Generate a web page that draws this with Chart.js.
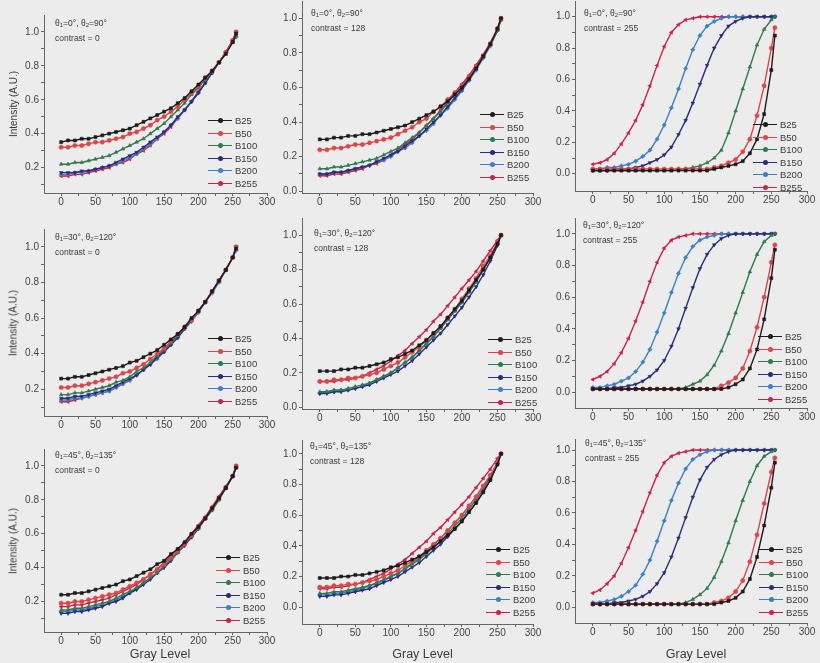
<!DOCTYPE html>
<html>
<head>
<meta charset="utf-8">
<script src="https://cdn.jsdelivr.net/npm/chart.js@4/dist/chart.umd.min.js"></script>
<style>
  html, body { margin: 0; padding: 0; background: #ececec; }
  #fig { position: relative; width: 820px; height: 663px; overflow: hidden; font-family: "Liberation Sans", Arial, sans-serif; color: #3a3a3a; }
  #fig canvas { position: absolute; }
  .note { position: absolute; font-size: 8.5px; line-height: 13px; white-space: nowrap; }
  .note sub { font-size: 6px; vertical-align: -1px; }
  .leg { position: absolute; font-size: 9.5px; }
  .leg div { position: absolute; left: 0; height: 12px; display: flex; align-items: center; white-space: nowrap; }
  .sym { position: relative; width: 24px; height: 1px; margin-right: 3px; }
  .sym i { position: absolute; left: 10px; top: -2px; width: 5px; height: 5px; border-radius: 50%; }
  .ytitle { position: absolute; font-size: 10px; transform: translate(-50%, -50%) rotate(-90deg); white-space: nowrap; }
  .xtitle { position: absolute; font-size: 12.5px; transform: translate(-50%, -50%); white-space: nowrap; }
</style>
</head>
<body>
<div id="fig"></div>
<script>
// グレーレベル (x) と目盛り
const grayLevels = [0, 10, 20, 30, 40, 50, 60, 70, 80, 90, 100, 110, 120, 130, 140, 150, 160, 170, 180, 190, 200, 210, 220, 230, 240, 250, 255];
const xTicks = [0, 25, 50, 75, 100, 125, 150, 175, 200, 225, 250, 275, 300];
const yTicks = [0, 0.1, 0.2, 0.3, 0.4, 0.5, 0.6, 0.7, 0.8, 0.9, 1.0];
const seriesNames = ['B25', 'B50', 'B100', 'B150', 'B200', 'B255'];
const seriesColors = ['#1c1c1c', '#dc4646', '#2f7a4f', '#2b2b7a', '#3d7fc4', '#c8234e'];
const thetaPairs = [[0, 90], [30, 120], [45, 135]];
const contrasts = [0, 128, 255];

// 各パネルの強度 (行: B25, B50, B100, B150, B200, B255)
const th0_c0 = [
  [.35,.36,.36,.37,.37,.38,.39,.40,.41,.42,.43,.45,.47,.49,.51,.53,.55,.58,.61,.65,.69,.73,.77,.82,.87,.94,.99],
  [.32,.32,.33,.33,.34,.35,.35,.36,.37,.38,.40,.41,.43,.45,.48,.50,.53,.56,.60,.64,.68,.73,.77,.82,.88,.95,1.0],
  [.22,.22,.23,.23,.24,.25,.26,.27,.29,.31,.33,.35,.37,.40,.43,.46,.50,.54,.58,.63,.67,.72,.77,.82,.88,.94,.98],
  [.17,.17,.17,.18,.18,.19,.20,.21,.23,.25,.27,.29,.32,.35,.38,.41,.45,.50,.54,.59,.64,.70,.76,.82,.88,.95,1.0],
  [.16,.16,.17,.17,.18,.19,.20,.21,.22,.24,.26,.28,.31,.34,.37,.41,.45,.49,.54,.59,.64,.70,.76,.82,.88,.94,.97],
  [.15,.15,.16,.16,.17,.18,.19,.20,.22,.23,.25,.28,.30,.33,.37,.40,.44,.49,.54,.59,.65,.70,.76,.82,.88,.95,1.0]
];
const th0_c128 = [
  [.30,.30,.31,.31,.32,.32,.33,.33,.34,.35,.36,.37,.38,.40,.42,.44,.46,.49,.52,.56,.60,.65,.71,.78,.85,.94,1.0],
  [.24,.24,.25,.25,.26,.27,.27,.28,.29,.30,.31,.33,.35,.37,.40,.42,.46,.49,.53,.57,.61,.66,.72,.78,.85,.94,1.0],
  [.13,.13,.14,.14,.15,.16,.17,.18,.19,.21,.23,.25,.28,.31,.34,.38,.42,.46,.51,.56,.61,.66,.72,.78,.85,.93,.99],
  [.10,.10,.11,.11,.12,.13,.14,.15,.17,.19,.21,.23,.26,.29,.32,.36,.40,.44,.49,.54,.59,.65,.71,.78,.85,.93,1.0],
  [.10,.10,.11,.11,.12,.13,.14,.15,.17,.18,.20,.23,.25,.28,.32,.35,.39,.44,.48,.53,.58,.64,.70,.77,.84,.93,.99],
  [.09,.09,.10,.10,.11,.12,.13,.15,.16,.18,.21,.24,.27,.30,.34,.38,.42,.47,.52,.57,.62,.67,.73,.79,.86,.94,1.0]
];
const th0_c255 = [
  [.02,.02,.02,.02,.02,.02,.02,.02,.02,.02,.02,.02,.02,.02,.02,.02,.02,.03,.04,.05,.06,.08,.13,.22,.38,.66,.88],
  [.03,.03,.03,.03,.03,.03,.03,.03,.03,.03,.03,.03,.03,.03,.03,.03,.03,.04,.05,.07,.09,.14,.22,.37,.56,.80,.93],
  [.02,.02,.02,.02,.02,.02,.02,.02,.02,.02,.02,.02,.03,.03,.04,.05,.07,.10,.15,.26,.40,.54,.68,.82,.92,.98,1.0],
  [.02,.02,.02,.03,.03,.03,.04,.05,.07,.09,.12,.17,.25,.34,.45,.57,.69,.80,.88,.94,.97,.99,1.0,1.0,1.0,1.0,1.0],
  [.03,.03,.04,.04,.05,.06,.08,.11,.15,.22,.31,.42,.54,.67,.79,.88,.94,.97,.99,1.0,1.0,1.0,1.0,1.0,1.0,1.0,1.0],
  [.06,.07,.09,.13,.19,.26,.34,.44,.56,.69,.81,.90,.95,.98,.99,1.0,1.0,1.0,1.0,1.0,1.0,1.0,1.0,1.0,1.0,1.0,1.0]
];
const th30_c0 = [
  [.26,.26,.27,.27,.28,.29,.30,.31,.32,.33,.35,.36,.38,.40,.42,.45,.48,.51,.55,.60,.64,.69,.75,.81,.87,.94,.99],
  [.21,.21,.22,.22,.23,.24,.25,.26,.27,.29,.30,.32,.34,.37,.40,.43,.47,.51,.55,.59,.64,.69,.75,.81,.87,.94,1.0],
  [.17,.17,.18,.18,.19,.20,.21,.22,.24,.25,.27,.30,.32,.35,.39,.42,.46,.50,.55,.59,.64,.69,.75,.81,.87,.94,.99],
  [.15,.15,.16,.16,.17,.18,.19,.20,.22,.24,.26,.28,.31,.34,.38,.41,.45,.49,.54,.59,.64,.69,.75,.81,.87,.94,1.0],
  [.14,.14,.15,.15,.16,.17,.18,.19,.21,.23,.25,.28,.31,.34,.37,.41,.45,.49,.54,.58,.63,.69,.74,.80,.87,.94,.98],
  [.13,.13,.14,.15,.16,.17,.18,.19,.21,.23,.25,.28,.31,.34,.38,.42,.46,.50,.55,.59,.64,.69,.75,.81,.87,.94,1.0]
];
const th30_c128 = [
  [.21,.21,.21,.22,.22,.23,.23,.24,.25,.26,.28,.29,.31,.33,.36,.39,.43,.47,.52,.57,.62,.68,.74,.80,.87,.95,1.0],
  [.15,.15,.16,.16,.17,.17,.18,.19,.20,.22,.24,.26,.29,.32,.35,.39,.43,.47,.52,.57,.63,.69,.75,.82,.88,.96,1.0],
  [.09,.09,.10,.10,.11,.12,.13,.14,.16,.18,.20,.23,.26,.29,.33,.37,.41,.46,.51,.56,.61,.67,.73,.80,.87,.95,1.0],
  [.08,.08,.09,.09,.10,.11,.12,.13,.15,.17,.19,.21,.24,.27,.31,.35,.39,.43,.48,.53,.58,.64,.70,.77,.85,.94,1.0],
  [.08,.09,.09,.10,.10,.11,.12,.14,.16,.18,.20,.23,.26,.29,.33,.37,.41,.46,.51,.56,.61,.67,.73,.80,.87,.95,1.0],
  [.15,.15,.15,.16,.16,.17,.18,.20,.22,.24,.27,.30,.33,.37,.41,.45,.50,.54,.59,.64,.69,.74,.79,.85,.91,.97,1.0]
];
const th30_c255 = [
  [.02,.02,.02,.02,.02,.02,.02,.02,.02,.02,.02,.02,.02,.02,.02,.02,.02,.02,.02,.03,.05,.08,.15,.27,.46,.72,.90],
  [.02,.02,.02,.02,.02,.02,.02,.02,.02,.02,.02,.02,.02,.02,.02,.02,.02,.02,.04,.06,.09,.15,.26,.41,.60,.82,.93],
  [.02,.02,.02,.02,.02,.02,.02,.02,.02,.02,.02,.02,.02,.03,.05,.07,.11,.17,.26,.37,.50,.63,.76,.87,.95,.99,1.0],
  [.02,.02,.02,.03,.03,.04,.05,.07,.10,.14,.20,.29,.40,.53,.66,.78,.87,.93,.97,.99,1.0,1.0,1.0,1.0,1.0,1.0,1.0],
  [.03,.03,.04,.05,.07,.09,.13,.19,.27,.38,.50,.63,.75,.85,.92,.96,.98,.99,1.0,1.0,1.0,1.0,1.0,1.0,1.0,1.0,1.0],
  [.08,.10,.13,.18,.25,.34,.45,.57,.70,.82,.91,.96,.98,.99,1.0,1.0,1.0,1.0,1.0,1.0,1.0,1.0,1.0,1.0,1.0,1.0,1.0]
];
const th45_c0 = [
  [.24,.24,.25,.25,.26,.27,.28,.29,.30,.32,.33,.35,.37,.39,.42,.44,.48,.51,.55,.60,.64,.69,.75,.81,.87,.94,.99],
  [.19,.19,.20,.20,.21,.22,.23,.24,.25,.27,.29,.31,.33,.36,.39,.42,.46,.50,.54,.59,.64,.69,.75,.81,.87,.94,1.0],
  [.15,.15,.16,.16,.17,.18,.19,.20,.22,.24,.26,.28,.31,.34,.37,.41,.45,.49,.54,.59,.63,.69,.74,.80,.87,.94,.99],
  [.13,.13,.14,.14,.15,.16,.17,.19,.20,.22,.25,.27,.30,.33,.37,.40,.44,.49,.53,.58,.63,.69,.74,.81,.87,.94,1.0],
  [.14,.14,.15,.15,.16,.17,.18,.19,.21,.23,.25,.28,.31,.34,.37,.41,.45,.49,.54,.58,.63,.69,.74,.80,.87,.94,.99],
  [.17,.17,.18,.18,.19,.20,.21,.22,.24,.26,.28,.30,.33,.36,.39,.43,.47,.51,.55,.60,.65,.70,.76,.82,.88,.94,1.0]
];
const th45_c128 = [
  [.19,.19,.19,.20,.20,.21,.21,.22,.23,.24,.26,.27,.29,.31,.33,.36,.39,.43,.47,.51,.56,.62,.68,.75,.83,.93,1.0],
  [.13,.13,.14,.14,.15,.15,.16,.17,.18,.20,.22,.24,.27,.30,.33,.37,.41,.45,.50,.55,.60,.66,.72,.79,.86,.94,1.0],
  [.09,.09,.10,.10,.11,.12,.13,.14,.16,.18,.20,.22,.25,.28,.31,.35,.39,.43,.48,.53,.58,.64,.70,.77,.85,.94,1.0],
  [.07,.07,.08,.08,.09,.10,.11,.12,.14,.16,.18,.20,.23,.26,.29,.33,.37,.41,.46,.51,.56,.62,.68,.75,.83,.93,1.0],
  [.08,.08,.09,.09,.10,.11,.12,.14,.15,.17,.20,.22,.25,.29,.32,.36,.40,.45,.50,.55,.60,.66,.72,.79,.86,.94,1.0],
  [.12,.12,.13,.13,.14,.15,.16,.18,.20,.22,.25,.28,.31,.35,.39,.43,.48,.52,.57,.62,.67,.72,.78,.84,.90,.97,1.0]
];
const th45_c255 = [
  [.02,.02,.02,.02,.02,.02,.02,.02,.02,.02,.02,.02,.02,.02,.02,.02,.02,.02,.03,.04,.06,.10,.18,.32,.52,.76,.92],
  [.02,.02,.02,.02,.02,.02,.02,.02,.02,.02,.02,.02,.02,.02,.02,.02,.02,.03,.04,.06,.10,.17,.29,.46,.66,.86,.95],
  [.02,.02,.02,.02,.02,.02,.02,.02,.02,.02,.02,.02,.02,.03,.05,.08,.12,.19,.29,.41,.55,.68,.80,.90,.96,.99,1.0],
  [.02,.02,.02,.03,.03,.04,.05,.07,.10,.15,.22,.32,.44,.57,.70,.81,.89,.94,.97,.99,1.0,1.0,1.0,1.0,1.0,1.0,1.0],
  [.03,.03,.04,.05,.07,.10,.14,.21,.30,.42,.55,.68,.79,.88,.94,.97,.99,1.0,1.0,1.0,1.0,1.0,1.0,1.0,1.0,1.0,1.0],
  [.09,.11,.15,.20,.28,.38,.49,.61,.73,.84,.92,.96,.98,.99,1.0,1.0,1.0,1.0,1.0,1.0,1.0,1.0,1.0,1.0,1.0,1.0,1.0]
];

// マーカー形状 (Origin 風)
const pointStyles = ['rect', 'circle', 'triangle', 'triangle', 'rectRot', 'triangle'];
const pointRotations = [0, 0, 0, 180, 0, -90];

// パネル配置: x0/x300 = x=0,300 の画素, y1/y0 = y=1.0,0.0 の画素
const panels = [
  { data: th0_c0,    row: 0, col: 0, x0: 61,  x300: 267, y1: 32,  y0: 201, ymin: 0.05,  ymax: 1.1,  legX: 208, legY: 120 },
  { data: th0_c128,  row: 0, col: 1, x0: 320, x300: 533, y1: 18,  y0: 191, ymin: -0.01, ymax: 1.1,  legX: 480, legY: 114 },
  { data: th0_c255,  row: 0, col: 2, x0: 593, x300: 807, y1: 17,  y0: 174, ymin: -0.11, ymax: 1.1,  legX: 753, legY: 124 },
  { data: th30_c0,   row: 1, col: 0, x0: 61,  x300: 267, y1: 247, y0: 425, ymin: 0.05,  ymax: 1.1,  legX: 208, legY: 338 },
  { data: th30_c128, row: 1, col: 1, x0: 320, x300: 533, y1: 235, y0: 407, ymin: -0.01, ymax: 1.1,  legX: 488, legY: 339 },
  { data: th30_c255, row: 1, col: 2, x0: 593, x300: 807, y1: 234, y0: 392, ymin: -0.10, ymax: 1.1,  legX: 758, legY: 336 },
  { data: th45_c0,   row: 2, col: 0, x0: 61,  x300: 267, y1: 466, y0: 635, ymin: 0.02,  ymax: 1.1,  legX: 216, legY: 557 },
  { data: th45_c128, row: 2, col: 1, x0: 320, x300: 533, y1: 454, y0: 607, ymin: -0.11, ymax: 1.09, legX: 486, legY: 549 },
  { data: th45_c255, row: 2, col: 2, x0: 593, x300: 807, y1: 450, y0: 607, ymin: -0.10, ymax: 1.07, legX: 759, legY: 549 }
];
const noteXY = [[55, 17], [311, 7], [584, 7], [55, 231], [314, 227], [583, 219], [55, 449], [310, 440], [585, 437]];

const YW = 30, XH = 22, PT = 8, PR = 14;
const fig = document.getElementById('fig');

function addDiv(cls, html, x, y) {
  const d = document.createElement('div');
  d.className = cls;
  d.innerHTML = html;
  d.style.left = x + 'px';
  d.style.top = y + 'px';
  fig.appendChild(d);
  return d;
}

panels.forEach((p, idx) => {
  const xmin = -25, xmax = 300;
  const pxPerX = (p.x300 - p.x0) / 300;
  const left = Math.round(p.x0 + xmin * pxPerX);
  const right = p.x300;
  const top = Math.round(p.y0 - (p.y0 - p.y1) * p.ymax);
  const bottom = Math.round(p.y0 - (p.y0 - p.y1) * p.ymin);

  const canvas = document.createElement('canvas');
  canvas.width = right - left + YW + PR;
  canvas.height = bottom - top + PT + XH;
  canvas.style.left = (left - YW) + 'px';
  canvas.style.top = (top - PT) + 'px';
  fig.appendChild(canvas);

  const datasets = p.data.map((vals, i) => ({
    label: seriesNames[i],
    data: grayLevels.map((g, k) => ({ x: g, y: vals[k] })),
    borderColor: seriesColors[i],
    backgroundColor: seriesColors[i],
    borderWidth: 1.4,
    pointStyle: pointStyles[i],
    pointRotation: pointRotations[i],
    pointRadius: 2.1,
    pointBorderWidth: 0.6,
    tension: 0
  }));

  new Chart(canvas, {
    type: 'line',
    data: { datasets: datasets },
    options: {
      responsive: false,
      animation: false,
      layout: { padding: { top: PT, right: PR, left: 0, bottom: 0 } },
      plugins: { legend: { display: false }, tooltip: { enabled: false } },
      scales: {
        x: {
          type: 'linear', min: xmin, max: xmax,
          afterBuildTicks: ax => { ax.ticks = xTicks.map(v => ({ value: v })); },
          afterFit: s => { s.height = XH; },
          ticks: {
            autoSkip: false, maxRotation: 0, padding: 0,
            color: '#444', font: { family: "'Liberation Sans', Arial", size: 10 },
            callback: v => (v % 50 === 0 ? String(v) : '')
          },
          grid: { drawOnChartArea: false, tickLength: 3, tickColor: '#666' },
          border: { color: '#666', width: 1 }
        },
        y: {
          type: 'linear', min: p.ymin, max: p.ymax,
          afterBuildTicks: ax => { ax.ticks = yTicks.filter(v => v >= p.ymin && v <= p.ymax).map(v => ({ value: v })); },
          afterFit: s => { s.width = YW; },
          ticks: {
            autoSkip: false, padding: 2,
            color: '#444', font: { family: "'Liberation Sans', Arial", size: 10 },
            callback: v => (Math.round(v * 10) % 2 === 0 ? v.toFixed(1) : '')
          },
          grid: { drawOnChartArea: false, tickLength: 3, tickColor: '#666' },
          border: { color: '#666', width: 1 }
        }
      }
    }
  });

  // 注記
  const th = thetaPairs[p.row];
  const c = contrasts[p.col];
  addDiv('note', 'θ<sub>1</sub>=' + th[0] + '°, θ<sub>2</sub>=' + th[1] + '°<br>contrast = ' + c,
    noteXY[idx][0], noteXY[idx][1]);

  // 凡例
  const leg = addDiv('leg', '', p.legX, Math.round(p.legY - 6));
  seriesNames.forEach((name, i) => {
    const row = document.createElement('div');
    row.style.top = Math.round(i * 12.6) + 'px';
    row.innerHTML = '<span class="sym" style="background:' + seriesColors[i] + '"><i style="background:' +
      seriesColors[i] + '"></i></span>' + name;
    leg.appendChild(row);
  });

  if (p.col === 0) addDiv('ytitle', 'Intensity (A.U.)', 13, (top + bottom) / 2);
  if (p.row === 2) addDiv('xtitle', 'Gray Level', (p.x0 + p.x300) / 2 - 4, 654);
});
</script>
</body>
</html>
